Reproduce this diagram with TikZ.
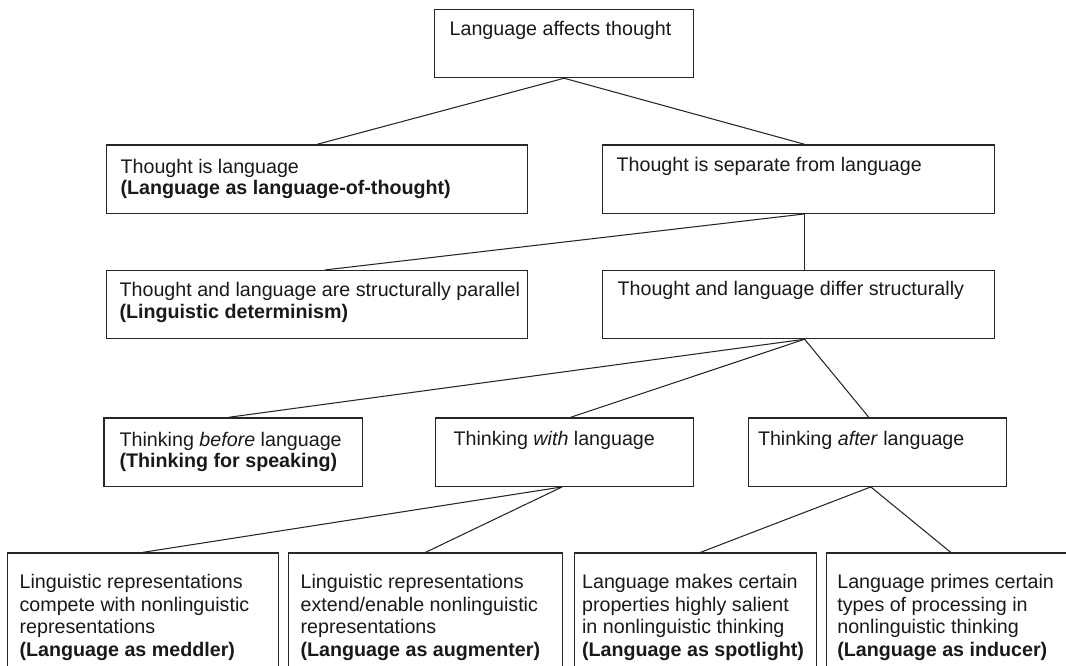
\documentclass[tikz,border=0pt]{standalone}
\usepackage{fontspec}
\setmainfont{Liberation Sans}
\newlength{\pxu}
\setlength{\pxu}{0.02cm}
% width, height above baseline, depth, left pad, lines
\newcommand{\cell}[5]{\makebox[#1\pxu][l]{\rule[-#3\pxu]{0pt}{\dimexpr#2\pxu+#3\pxu\relax}\hspace*{#4\pxu}\begin{tabular}[t]{@{}l@{}}#5\end{tabular}}}

\begin{document}
\begin{tikzpicture}[
    x=0.02cm, y=-0.02cm,
    box/.style={draw=black!85, line width=0.7pt, inner sep=0pt, anchor=north west,
                text=black!90, font=\fontsize{11.2}{12.2}\selectfont},
    low/.style={box, font=\fontsize{11.2}{12.8}\selectfont},
    link/.style={draw=black!85, line width=0.6pt}
  ]
    \useasboundingbox (0,0) rectangle (1066,666);
    \clip (0,0) rectangle (1066,666);

    \node[box] (affects) at (434,9) {\cell{259}{26}{42}{15}{Language affects thought}};

    \node[box] (islang) at (106,144.3) {\cell{421}{28.5}{40}{14}{Thought is language\\\textbf{(Language as language-of-thought)}}};
    \node[box] (separate) at (602,144.3) {\cell{392}{27}{41.4}{14}{Thought is separate from language}};

    \node[box] (parallel) at (106,270) {\cell{421}{26}{42}{13}{Thought and language are structurally parallel\\\textbf{(Linguistic determinism)}}};
    \node[box] (differ) at (602,270) {\cell{392}{24.5}{43.5}{15}{Thought and language differ structurally}};

    \node[box] (before) at (103.3,417.3) {\cell{258.4}{28.4}{40}{15.7}{Thinking \emph{before} language\\\textbf{(Thinking for speaking)}}};
    \node[box] (with) at (435,417.3) {\cell{258}{28}{40.4}{18}{Thinking \emph{with} language}};
    \node[box] (after) at (747.7,417.3) {\cell{258}{28}{40.4}{9.7}{Thinking \emph{after} language}};

    \node[low] (meddler) at (7,552.3) {\cell{271}{35.7}{92}{12}{Linguistic representations\\compete with nonlinguistic\\representations\\\textbf{(Language as meddler)}}};
    \node[low] (augment) at (288,552.3) {\cell{274}{35.7}{92}{12}{Linguistic representations\\extend/enable nonlinguistic\\representations\\\textbf{(Language as augmenter)}}};
    \node[low] (spot) at (574,552.3) {\cell{242}{35.7}{92}{7.5}{Language makes certain\\properties highly salient\\in nonlinguistic thinking\\\textbf{(Language as spotlight)}}};
    \node[low] (inducer) at (826,552.3) {\cell{248}{35.7}{92}{10.7}{Language primes certain\\types of processing in\\nonlinguistic thinking\\\textbf{(Language as inducer)}}};

    \draw[link] (affects.south) -- (islang.north);
    \draw[link] (affects.south) -- ([xshift=0.12cm]separate.north);
    \draw[link] ([xshift=0.12cm]separate.south) -- ([xshift=0.15cm]parallel.north);
    \draw[link] ([xshift=0.12cm]separate.south) -- ([xshift=0.12cm]differ.north);
    \draw[link] ([xshift=0.12cm]differ.south) -- ([xshift=-0.09cm]before.north);
    \draw[link] ([xshift=0.12cm]differ.south) -- ([xshift=0.12cm]with.north);
    \draw[link] ([xshift=0.12cm]differ.south) -- ([xshift=-0.17cm]after.north);
    \draw[link] ([xshift=-0.05cm]with.south) -- (meddler.north);
    \draw[link] ([xshift=-0.05cm]with.south) -- (augment.north);
    \draw[link] ([xshift=-0.13cm]after.south) -- ([xshift=0.1cm]spot.north);
    \draw[link] ([xshift=-0.13cm]after.south) -- (inducer.north);
\end{tikzpicture}
\end{document}
